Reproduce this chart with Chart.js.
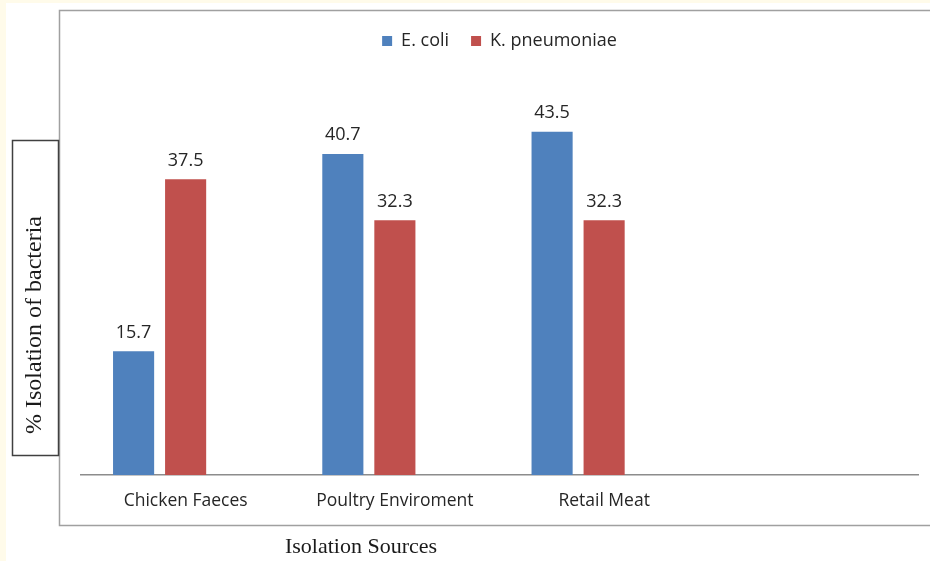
<!DOCTYPE html>
<html>
<head>
<meta charset="utf-8">
<script src="https://cdn.jsdelivr.net/npm/chart.js@4.4.1/dist/chart.umd.min.js"></script>
<style>
  html, body { margin: 0; padding: 0; background: #fff; }
  #wrap { position: relative; width: 930px; height: 561px; }
</style>
</head>
<body>
<div id="wrap"><canvas id="chart-isolation" width="930" height="561"></canvas></div>
<script>
var categories = ['Chicken Faeces', 'Poultry Enviroment', 'Retail Meat', ''];
var ecoli = [15.7, 40.7, 43.5, null];
var kpneumoniae = [37.5, 32.3, 32.3, null];
var spareSeries = [null, null, null, null]; // empty 3rd series, keeps bars left of the label like the original
var seriesNames = ['E. coli', 'K. pneumoniae', ''];

var labelFont = '"Open Sans", sans-serif';
var titleFont = '"Liberation Serif", serif';

// frame, side boxes and axis titles
var framePlugin = {
    id: 'frame',
    beforeDraw: function(chart) {
        var c = chart.ctx;
        c.save();
        c.fillStyle = '#ffffff';
        c.fillRect(0, 0, chart.width, chart.height);
        c.fillStyle = '#fffbea';
        c.fillRect(0, 0, 6, chart.height);
        c.fillRect(0, 0, chart.width, 3);

        c.strokeStyle = '#a0a0a0';
        c.lineWidth = 1.5;
        c.beginPath();
        c.moveTo(chart.width, 10.5);
        c.lineTo(59.5, 10.5);
        c.lineTo(59.5, 525.5);
        c.lineTo(chart.width, 525.5);
        c.stroke();

        c.fillStyle = '#ffffff';
        c.fillRect(12, 140, 46, 315);
        c.strokeStyle = '#404040';
        c.lineWidth = 1.5;
        c.strokeRect(12.5, 140.5, 46, 315);

        c.fillStyle = '#1a1a1a';
        c.font = '24px ' + titleFont;
        c.textAlign = 'center';
        c.textBaseline = 'middle';
        c.translate(35, 325);
        c.rotate(-Math.PI / 2);
        c.fillText('% Isolation of bacteria', 0, 0);
        c.restore();

        c.save();
        c.fillStyle = '#1a1a1a';
        c.font = '22px ' + titleFont;
        c.textAlign = 'center';
        c.textBaseline = 'alphabetic';
        c.fillText('Isolation Sources', 361, 553);
        c.restore();
    },
    afterDatasetsDraw: function(chart) {
        var c = chart.ctx;
        c.save();
        c.fillStyle = '#262626';
        c.font = '18px ' + labelFont;
        c.textAlign = 'center';
        c.textBaseline = 'alphabetic';
        chart.data.datasets.forEach(function(ds, i) {
            var meta = chart.getDatasetMeta(i);
            meta.data.forEach(function(bar, j) {
                var v = ds.data[j];
                if (v === null || v === undefined) return;
                c.fillText(v.toFixed(1), bar.x, bar.y - 13.5);
            });
        });
        c.restore();
    }
};

var ctx = document.getElementById('chart-isolation');
var isolationChart = new Chart(ctx, {
    type: 'bar',
    data: {
        labels: categories,
        datasets: [
            { label: seriesNames[0], data: ecoli, backgroundColor: '#4f81bd' },
            { label: seriesNames[1], data: kpneumoniae, backgroundColor: '#c0504d' },
            { label: seriesNames[2], data: spareSeries, backgroundColor: '#9bbb59' }
        ]
    },
    options: {
        responsive: false,
        animation: false,
        devicePixelRatio: 1,
        categoryPercentage: 0.746,
        barPercentage: 0.79,
        layout: { padding: { left: 81, right: 12, top: 10, bottom: 33 } },
        plugins: {
            legend: {
                position: 'top',
                labels: {
                    boxWidth: 10,
                    boxHeight: 10,
                    padding: 22,
                    color: '#262626',
                    font: { family: labelFont, size: 18 },
                    filter: function(item) { return item.text !== ''; }
                }
            },
            tooltip: { enabled: false }
        },
        scales: {
            x: {
                grid: { display: false, drawTicks: false },
                border: { display: true, color: '#8c8c8c', width: 1.5 },
                ticks: {
                    color: '#262626',
                    padding: 16,
                    font: { family: labelFont, size: 17.5 }
                }
            },
            y: {
                display: false,
                min: 0,
                max: 52.6
            }
        }
    },
    plugins: [framePlugin]
});
</script>
</body>
</html>
